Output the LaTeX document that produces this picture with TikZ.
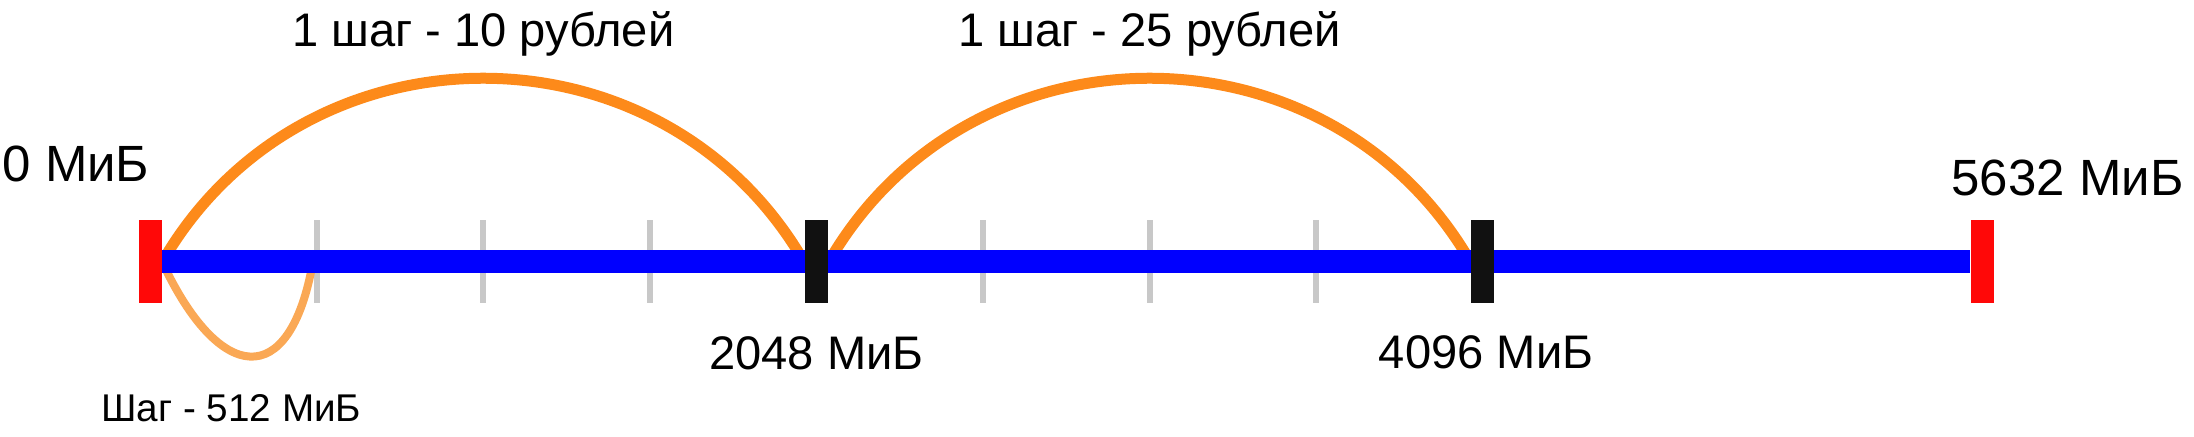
\documentclass[tikz,border=0pt]{standalone}
\usepackage{fontspec}
\setmainfont{Liberation Sans}
\usetikzlibrary{backgrounds}
\definecolor{lineblue}{RGB}{0,0,255}
\definecolor{hoporange}{RGB}{253,138,26}
\definecolor{steporange}{RGB}{250,168,85}
\definecolor{notchgray}{RGB}{200,200,200}
\definecolor{markblack}{RGB}{17,17,17}
\definecolor{markred}{RGB}{255,8,8}

\begin{document}
\begin{tikzpicture}[x=1.666cm, y=1cm,
        mk/.style={rectangle, inner sep=0pt,
                        minimum width=0.23cm, minimum height=0.83cm},
        nt/.style={rectangle, fill=notchgray, inner sep=0pt,
                        minimum width=0.06cm, minimum height=0.83cm},
        lbl/.style={inner sep=0pt, anchor=base,
                        font=\fontsize{13.4}{15}\selectfont},
        hop/.style={draw=hoporange, line width=0.11cm}]
    \useasboundingbox (-0.9004,-1.75) rectangle (12.269,2.62);
    % marks on the scale, one unit = 512 MiB
    \node[mk, fill=markred] (m0) at (0,0) {};
    \node[mk, fill=markblack] (m2048) at (4,0) {};
    \node[mk, fill=markblack] (m4096) at (8,0) {};
    \node[mk, fill=markred] (m5632) at (11,0) {};
    \begin{scope}[on background layer]
        \foreach \s in {1,2,3,5,6,7}
            \node[nt] (t\s) at (\s,0) {};
        \draw[draw=steporange, line width=0.08cm]
            (m0.east) to[out=-65, in=-100, looseness=2.27] (t1.west);
        \draw[hop] (m0.east) to[bend left=60, looseness=1.13] (m2048.west);
        \draw[hop] (m2048.east) to[bend left=60, looseness=1.13] (m4096.west);
        \draw[lineblue, line width=0.23cm] (m0.east) -- (m5632.west);
    \end{scope}
    % labels
    \node[lbl, font=\fontsize{14.5}{16}\selectfont] (l0) at (-0.444,0.80) {0 МиБ};
    \node[lbl, font=\fontsize{14.5}{16}\selectfont] (l5632) at (11.51,0.66) {5632 МиБ};
    \node[lbl] (l2048) at (4,-1.08) {2048 МиБ};
    \node[lbl] (l4096) at (8.02,-1.07) {4096 МиБ};
    \node[lbl] (lprice1) at (2,2.15) {1 шаг - 10 рублей};
    \node[lbl] (lprice2) at (6,2.15) {1 шаг - 25 рублей};
    \node[lbl, font=\fontsize{11}{12}\selectfont]
        (lstep) at (0.488,-1.60) {Шаг - 512 МиБ};
\end{tikzpicture}
\end{document}
